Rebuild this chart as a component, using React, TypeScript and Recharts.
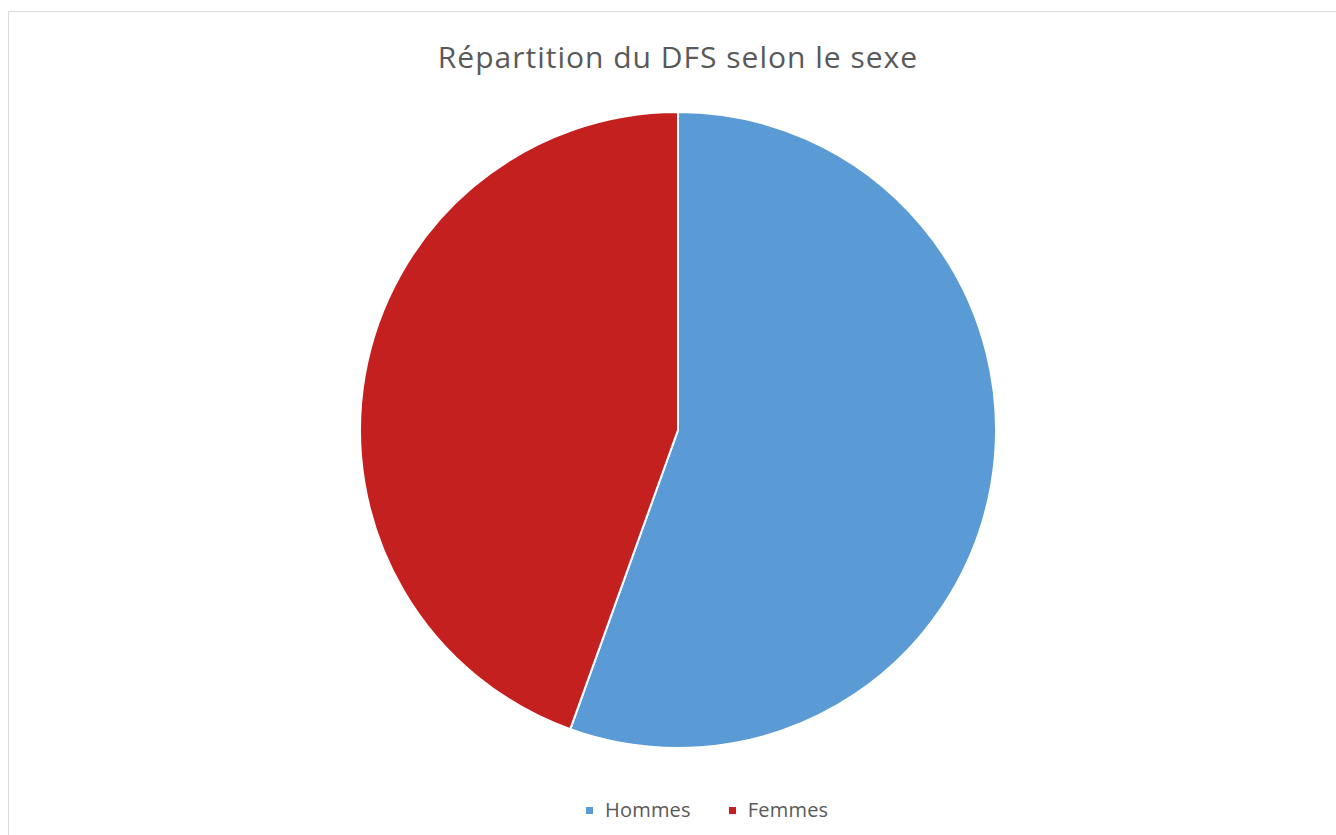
import { PieChart, Pie, Cell, Legend } from "recharts"

const categories = ["Hommes", "Femmes"]
const values = [55.5, 44.5]
const colors = ["#5b9bd5", "#c52020"]

const data = categories.map((name, i) => ({ name, value: values[i] }))

const font = "'Open Sans', 'Noto Sans', sans-serif"

// legend drawn in data order (recharts sorts the payload by default)
function LegendContent() {
  return (
    <div style={{ display: "flex", fontFamily: font, fontSize: 20, letterSpacing: 0.2, color: "#595959", lineHeight: "26px" }}>
      {categories.map((name, i) => (
        <div key={name} style={{ display: "flex", alignItems: "center", marginRight: i === 0 ? 38 : 0 }}>
          <span style={{ width: 7, height: 7, background: colors[i], display: "inline-block", marginRight: 12 }} />
          <span>{name}</span>
        </div>
      ))}
    </div>
  )
}

export default function App() {
  return (
    <div style={{ position: "absolute", left: 0, top: 0, width: 1336, height: 835, overflow: "hidden", background: "#fff" }}>
      <div style={{ position: "absolute", left: 8, top: 11, width: 1340, height: 840, border: "1.5px solid #d9d9d9" }} />
      <div
        style={{
          position: "absolute",
          left: 0,
          top: 36,
          width: 1356,
          textAlign: "center",
          fontFamily: font,
          fontSize: 30,
          letterSpacing: 1,
          color: "#595959",
        }}
      >
        Répartition du DFS selon le sexe
      </div>
      <div style={{ position: "absolute", left: 0, top: 0 }}>
        <PieChart width={1336} height={835} margin={{ top: 0, right: 0, bottom: 0, left: 0 }}>
          <Pie
            data={data}
            dataKey="value"
            nameKey="name"
            cx={678}
            cy={430}
            outerRadius={318}
            startAngle={90}
            endAngle={-270}
            stroke="#ffffff"
            strokeWidth={2}
            isAnimationActive={false}
          >
            {data.map((d, i) => (
              <Cell key={d.name} fill={colors[i]} />
            ))}
          </Pie>
          <Legend
            content={<LegendContent />}
            wrapperStyle={{ left: 586, top: 797, bottom: "auto", width: "auto" }}
          />
        </PieChart>
      </div>
    </div>
  )
}
